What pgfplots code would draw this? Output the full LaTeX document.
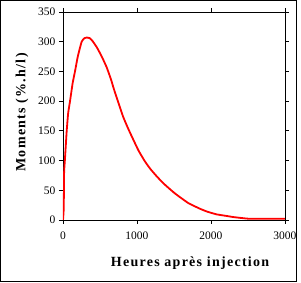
\documentclass[border=0pt]{standalone}
\usepackage{pgfplots}
\pgfplotsset{compat=1.18}
\usepackage{fontspec}
\setmainfont{Liberation Serif}
\begin{document}
\begin{tikzpicture}[x=1pt,y=1pt]
\useasboundingbox (-63,-63) rectangle (238,220);
\draw[line width=1pt] (-62,-61.7) rectangle (234,219);
\begin{axis}[
  at={(0,0)}, anchor=south west,
  scale only axis, width=222pt, height=208pt,
  xmin=0, xmax=3000, ymin=0, ymax=350,
  xtick={0,1000,2000,3000}, ytick={0,50,...,350},
  axis line style={line width=0.8pt},
  tick style={black, line width=0.8pt},
  tick align=outside, major tick length=4pt,
  /pgf/number format/assume math mode=true,
  /pgf/number format/set thousands separator={},
  tick label style={font=\fontsize{11.5}{12}\selectfont},
  xticklabel style={yshift=-4pt},
  xlabel={\textbf{Heures après injection}},
  ylabel={\textbf{Moments (\%.h/l)}},
  label style={font=\fontsize{14}{15}\selectfont\addfontfeature{LetterSpace=9}},
  xlabel style={at={(axis description cs:0.575,0)}, anchor=north, yshift=-33pt},
  ylabel style={at={(axis description cs:0,0.52)}, anchor=south, yshift=31pt},
]
\addplot[red, line width=1.8pt, line join=round, smooth, tension=0.3] coordinates {
(0,0) (10,20) (15,80) (25,100) (40,130) (50,150) (70,180) (95,200) (130,230) (162,250) (200,275) (252,300) (290,306) (320,307) (360,306) (400,301) (455,291) (520,276) (590,257) (650,236) (686,221) (750,197) (812,174) (880,154) (947,136) (1020,117) (1105,99) (1180,86) (1263,74) (1350,62.5) (1444,52) (1520,44) (1602,36.5) (1700,28) (1850,19) (1950,14) (2075,9.5) (2200,7) (2300,5) (2400,3.5) (2525,2) (2700,2) (3000,2)
};
\end{axis}
\end{tikzpicture}
\end{document}
